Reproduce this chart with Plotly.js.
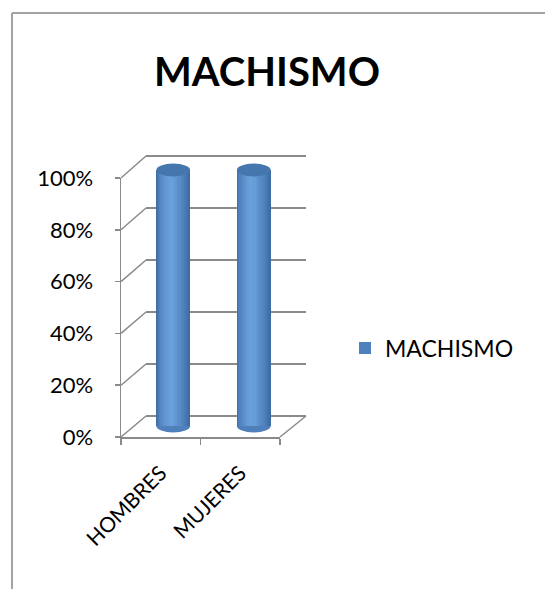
<!DOCTYPE html>
<html><head><meta charset="utf-8">
<script src="https://cdn.plot.ly/plotly-3.0.1.min.js"></script>
<style>html,body{margin:0;padding:0;background:#fff}</style>
</head><body><div id="chart" style="width:545px;height:589px"></div>
<script>
// ---- data ----
const categories = ['HOMBRES', 'MUJERES'];
const values = [1.0, 1.0];
const seriesName = 'MACHISMO';
const tickVals = [0, 0.2, 0.4, 0.6, 0.8, 1.0];
const tickText = ['0%', '20%', '40%', '60%', '80%', '100%'];

// ---- geometry (pixels) ----
const W = 545, H = 589;
const px = v => v / W, py = v => 1 - v / H;
const front = {x0: 121, x1: 280, y0: 437, y1: 178};
const back  = {x0: 146, x1: 306, y0: 416, y1: 156};
const mid   = {x0: 133, x1: 294, yZero: 426, yOne: 170};
const yPad = 0.05;
const unit = mid.yZero - mid.yOne;
const midDom = [py(mid.yZero + yPad * unit), py(mid.yOne - yPad * unit)];
const bPad = 0.02;
const bUnit = back.y0 - back.y1;
const backDom = [py(back.y0 + bPad * bUnit), py(back.y1 - bPad * bUnit)];
const fontFam = 'Lato, "Liberation Sans", sans-serif';
const gridCol = '#8a8a8a';

const barW = 0.42;
const layers = [
  {w: 0.420, s: 0.000, c: '#3e6da2'},
  {w: 0.390, s: -0.008, c: '#4474ab'},
  {w: 0.355, s: -0.014, c: '#4a7bb4'},
  {w: 0.315, s: -0.020, c: '#5082bc'},
  {w: 0.270, s: -0.025, c: '#5688c3'},
  {w: 0.220, s: -0.028, c: '#5c8fca'},
  {w: 0.165, s: -0.030, c: '#6196d1'},
  {w: 0.105, s: -0.030, c: '#669cd7'},
  {w: 0.050, s: -0.030, c: '#6aa0da'}
];

const traces = layers.map((L, k) => ({
  type: 'bar', x: categories, y: values, xaxis: 'x2', yaxis: 'y2',
  width: L.w, offset: L.s - L.w / 2,
  marker: {color: L.c, line: {width: 0}},
  name: seriesName, showlegend: false, hoverinfo: 'skip'
}));
// legend entry (same series, legend colour)
traces.push({type: 'bar', x: categories, y: values.map(() => null), xaxis: 'x2', yaxis: 'y2',
  marker: {color: '#4f81bd', line: {width: 0}}, name: seriesName, showlegend: true, hoverinfo: 'skip'});
// anchor traces so that the back-wall and front-axis subplots are drawn
traces.push({type: 'scatter', x: [null], y: [null], xaxis: 'x', yaxis: 'y', showlegend: false, hoverinfo: 'skip', mode: 'markers'});
traces.push({type: 'scatter', x: categories, y: [null, null], xaxis: 'x3', yaxis: 'y3', showlegend: false, hoverinfo: 'skip', mode: 'markers'});

const shapes = [];
// frame
shapes.push({type: 'line', xref: 'paper', yref: 'paper', x0: px(12), x1: px(12), y0: py(13), y1: py(600), line: {color: '#a3a3a3', width: 2}});
shapes.push({type: 'line', xref: 'paper', yref: 'paper', x0: px(12), x1: px(560), y0: py(13), y1: py(13), line: {color: '#a3a3a3', width: 2}});
// side-wall diagonals from front axis ticks to back wall gridlines
tickVals.forEach(v => {
  const yf = front.y0 + (front.y1 - front.y0) * v;
  const yb = back.y0 + (back.y1 - back.y0) * v;
  shapes.push({type: 'line', xref: 'paper', yref: 'paper', x0: px(front.x0), y0: py(yf), x1: px(back.x0), y1: py(yb), line: {color: gridCol, width: 1.5}, layer: 'below'});
});
// floor right edge
shapes.push({type: 'line', xref: 'paper', yref: 'paper', x0: px(front.x1), y0: py(front.y0), x1: px(back.x1), y1: py(back.y0), line: {color: gridCol, width: 1.5}, layer: 'below'});
// cylinder caps
const ry = 6.5 / unit;
values.forEach((v, i) => {
  shapes.push({type: 'circle', xref: 'x2', yref: 'y2', x0: i - barW / 2, x1: i + barW / 2, y0: -ry, y1: ry, fillcolor: '#4f80bb', line: {width: 0}, layer: 'between'});
  shapes.push({type: 'circle', xref: 'x2', yref: 'y2', x0: i - barW / 2, x1: i + barW / 2, y0: v - ry, y1: v + ry, fillcolor: '#4676ae', line: {width: 0}, layer: 'above'});
});

const layout = {
  width: W, height: H, margin: {l: 0, r: 0, t: 0, b: 0},
  paper_bgcolor: '#fff', plot_bgcolor: 'rgba(0,0,0,0)',
  font: {family: fontFam, color: '#000'},
  barmode: 'overlay', bargap: 0,
  title: {text: '<b>MACHISMO</b>', x: px(267), xanchor: 'center', y: py(72), yanchor: 'middle', font: {family: fontFam, size: 40, color: '#000'}},
  // back wall
  xaxis: {domain: [px(back.x0), px(back.x1)], anchor: 'y', range: [0, 1], showgrid: false, zeroline: false, showticklabels: false, ticks: '', showline: false},
  yaxis: {domain: backDom, anchor: 'x', range: [-bPad, 1 + bPad], tickvals: tickVals, showgrid: true, gridcolor: gridCol, gridwidth: 1.5, zeroline: false, showticklabels: false, ticks: '', showline: false},
  // bars (middle depth)
  xaxis2: {domain: [px(mid.x0), px(mid.x1)], anchor: 'y2', type: 'category', range: [-0.5, 1.5], visible: false},
  yaxis2: {domain: midDom, anchor: 'x2', range: [-yPad, 1 + yPad], visible: false},
  // front axes
  xaxis3: {domain: [px(front.x0), px(front.x1)], anchor: 'y3', type: 'category', categoryarray: categories, range: [-0.5, 1.5],
    showline: true, linecolor: gridCol, linewidth: 1.5, ticks: 'outside', tickson: 'boundaries', ticklen: 6, tickcolor: gridCol, tickwidth: 1.5,
    tickangle: -45, ticklabelstandoff: 14, tickfont: {family: fontFam, size: 21, color: '#000'}, showgrid: false, zeroline: false},
  yaxis3: {domain: [py(front.y0), py(front.y1)], anchor: 'x3', range: [0, 1], tickvals: tickVals, ticktext: tickText,
    showline: true, linecolor: gridCol, linewidth: 1.5, ticks: 'outside', ticklen: 5, tickcolor: gridCol, tickwidth: 1.5,
    ticklabelstandoff: 17, tickfont: {family: fontFam, size: 22, color: '#000'}, showgrid: false, zeroline: false},
  legend: {x: px(345), xanchor: 'left', y: py(348), yanchor: 'middle', font: {family: fontFam, size: 23, color: '#000'}, bgcolor: 'rgba(0,0,0,0)'},
  shapes: shapes
};

Plotly.newPlot('chart', traces, layout, {staticPlot: true});
</script></body></html>
